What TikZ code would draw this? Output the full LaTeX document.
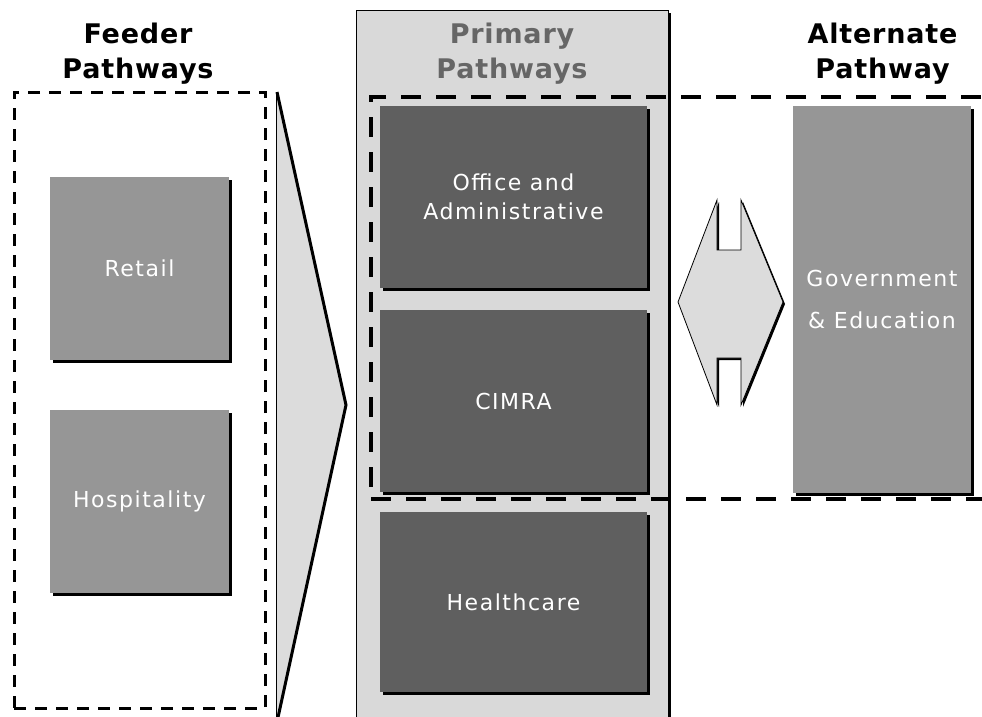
\documentclass[tikz,border=0pt]{standalone}
\usepackage{fontspec}
\setmainfont{DejaVu Sans}
\newfontfamily\boxfont[LetterSpace=7]{DejaVu Sans}
\newfontfamily\headfont[LetterSpace=3]{DejaVu Sans Bold}
\usetikzlibrary{shadows}
\definecolor{cPanel}{HTML}{D9D9D9}
\definecolor{cDark}{HTML}{5F5F5F}
\definecolor{cMid}{HTML}{969696}
\definecolor{cLight}{HTML}{DCDCDC}
\definecolor{cHead}{HTML}{666666}
\begin{document}
\begin{tikzpicture}[x=1pt,y=-1pt,
  shadowthree/.style={drop shadow={shadow xshift=3pt,shadow yshift=-3pt,fill=black,opacity=1}},
  shadowtwo/.style={drop shadow={shadow xshift=2pt,shadow yshift=-2pt,fill=black,opacity=1}},
  pbox/.style={rectangle, inner sep=0pt, text=white, align=center,
    font=\boxfont\fontsize{22}{29}\selectfont, shadowthree},
  darkbox/.style={pbox, fill=cDark, minimum width=267pt},
  midbox/.style={pbox, fill=cMid},
  head/.style={inner sep=0pt, align=center, font=\headfont\fontsize{27}{35}\selectfont},
  thinframe/.style={rectangle, draw=black, line width=3pt, dash pattern=on 12pt off 9pt, inner sep=0pt},
  thickframe/.style={rectangle, draw=black, line width=4.5pt, dash pattern=on 20pt off 15pt, inner sep=0pt},
  panel/.style={rectangle, draw=black, line width=0.8pt, fill=cPanel, inner sep=0pt, shadowthree}
]
\fill[white] (0,0) rectangle (982,717);
\useasboundingbox (0,0) rectangle (982,717);

% primary panel
\node[panel, minimum width=312pt, minimum height=712pt] (prim) at (512,366) {};
\node[head, text=cHead] (primT) at (512,53.5) {Primary\\Pathways};

% feeder
\node[head] (feedT) at (138,53.5) {Feeder\\Pathways};
\node[thinframe, minimum width=251pt, minimum height=616pt] (feed) at (139.5,400) {};
\node[midbox, minimum width=179pt, minimum height=183pt] (retail) at (139.5,268.5) {Retail};
\node[midbox, minimum width=179pt, minimum height=183pt] (hosp) at (139.5,501.5) {Hospitality};

% feeder triangle
\fill[cLight] (276,92) -- (346,405) -- (276,722) -- cycle;
\draw[line width=1pt] (276,92) -- (276,722);
\draw[line width=3pt, line join=miter] (277,92) -- (346,405) -- (277,722);

% primary boxes
\node[darkbox, minimum height=182pt] (office) at (513.5,197) {Office and\\Administrative};
\node[darkbox, minimum height=182pt] (cimra) at (513.5,401) {CIMRA};
\node[darkbox, minimum height=180pt] (health) at (513.5,602) {Healthcare};

% alternate
\node[head] (altT) at (882.5,53.5) {Alternate\\Pathway};
\node[midbox, minimum width=178pt, minimum height=387pt,
  font=\boxfont\fontsize{22}{42}\selectfont] (gov) at (882,299.5) {Government\\\& Education};

% big dashed frame
\node[thickframe, minimum width=629pt, minimum height=402pt] (alt) at (685.5,298) {};

% double arrow
\path[fill=cLight, draw=black, line width=0.8pt, shadowtwo]
  (717,200) -- (717,250) -- (741,250) -- (741,200) -- (783,302) -- (741,405)
  -- (741,358) -- (717,358) -- (717,405) -- (678,302) -- cycle;
\end{tikzpicture}
\end{document}
